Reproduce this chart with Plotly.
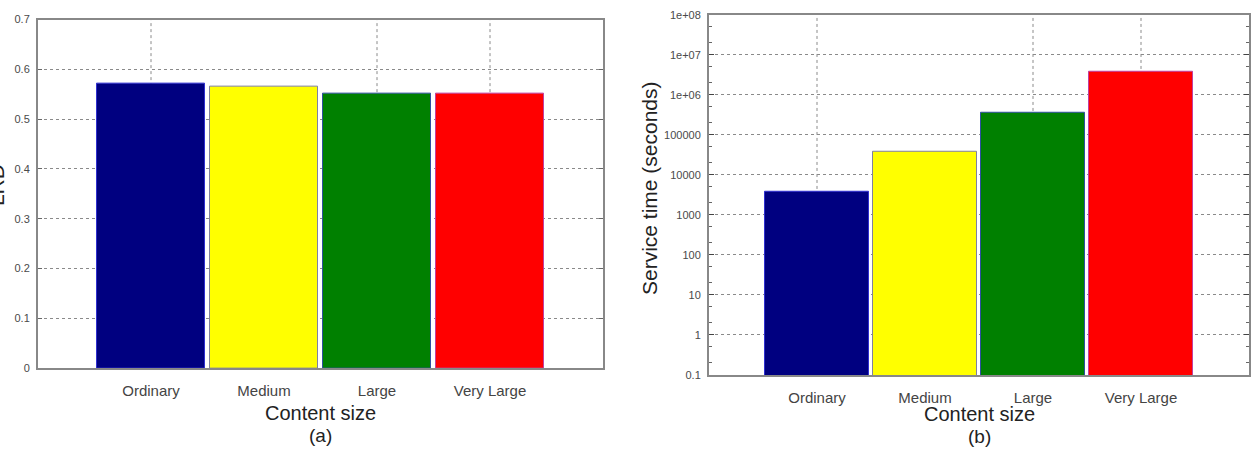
import plotly.graph_objects as go

categories = ["Ordinary", "Medium", "Large", "Very Large"]
lrd_values = [0.572, 0.566, 0.552, 0.551]
service_time = [3750, 37300, 365000, 3750000]
bar_colors = ["#000080", "#ffff00", "#008000", "#ff0000"]
edge_colors = ["#3030d0", "#8080a0", "#3050a0", "#c040a0"]
ya_ticks = [0, 0.1, 0.2, 0.3, 0.4, 0.5, 0.6, 0.7]
yb_tickvals = [0.1, 1, 10, 100, 1000, 10000, 100000, 1e6, 1e7, 1e8]
yb_ticktext = ["0.1", "1", "10", "100", "1000", "10000", "100000", "1e+06", "1e+07", "1e+08"]
vgrid_pos = [0, 2, 3]

W, H = 1258, 452
xa_dom = [38 / W, 603 / W]
xb_dom = [709 / W, 1249 / W]
ya_dom = [1 - 372 / H, 1 - 14 / H]
yb_dom = [1 - 379 / H, 1 - 9 / H]
xs = list(range(len(categories)))

fig = go.Figure()
fig.add_trace(go.Bar(x=xs, y=lrd_values, width=0.955, marker=dict(color=bar_colors, line=dict(color=edge_colors, width=1)),
                     xaxis="x", yaxis="y", showlegend=False, hoverinfo="y"))
fig.add_trace(go.Bar(x=xs, y=service_time, width=0.955, marker=dict(color=bar_colors, line=dict(color=edge_colors, width=1)),
                     xaxis="x2", yaxis="y2", showlegend=False, hoverinfo="y"))

grid_col = "#8a8a8a"
tickfont = dict(family="Liberation Sans, Arial, sans-serif", size=11, color="#4a4a4a")
xtickfont = dict(family="Liberation Sans, Arial, sans-serif", size=15, color="#444")

common_x = dict(range=[-1, 4], tickvals=xs, ticktext=categories, showgrid=False, zeroline=False,
                showline=True, mirror=True, linecolor="#888", linewidth=2, ticks="", tickfont=xtickfont, ticklabelstandoff=8)
fig.update_layout(
    width=W, height=H, margin=dict(l=0, r=0, t=0, b=0),
    paper_bgcolor="white", plot_bgcolor="white", bargap=0,
    xaxis=dict(domain=xa_dom, anchor="y", **common_x),
    yaxis=dict(domain=ya_dom, anchor="x", range=[0, 0.7], tickvals=ya_ticks, showgrid=True, gridcolor=grid_col,
               griddash="dot", gridwidth=1, zeroline=False, showline=True, mirror="ticks", linecolor="#888", linewidth=2,
               ticks="inside", ticklen=4, tickcolor="#666", tickfont=tickfont, ticklabelstandoff=4),
    xaxis2=dict(domain=xb_dom, anchor="y2", **common_x),
    yaxis2=dict(domain=yb_dom, anchor="x2", type="log", range=[-1, 8], tickvals=yb_tickvals, ticktext=yb_ticktext,
                showgrid=True, gridcolor=grid_col, griddash="dot", gridwidth=1, zeroline=False, showline=True,
                mirror="ticks", linecolor="#888", linewidth=2, ticks="inside", ticklen=5, tickcolor="#444",
                tickfont=tickfont, ticklabelstandoff=4,
                minor=dict(ticks="inside", ticklen=3, tickcolor="#666", showgrid=False)),
)

# vertical grid lines at selected category positions (drawn below bars)
for xr, yr in (("x", "y domain"), ("x2", "y2 domain")):
    for p in vgrid_pos:
        fig.add_shape(type="line", xref=xr, yref=yr, x0=p, x1=p, y0=0, y1=1, layer="below",
                      line=dict(color=grid_col, width=1, dash="dot"))

tfont = dict(family="Liberation Sans, Arial, sans-serif", size=20, color="#222")
sfont = dict(family="Liberation Sans, Arial, sans-serif", size=19, color="#222")
anns = [
    dict(text="Content size", x=(xa_dom[0] + xa_dom[1]) / 2, y=1 - 418 / H, font=tfont),
    dict(text="(a)", x=(xa_dom[0] + xa_dom[1]) / 2, y=1 - 441 / H, font=sfont),
    dict(text="Content size", x=(xb_dom[0] + xb_dom[1]) / 2, y=1 - 419 / H, font=tfont),
    dict(text="(b)", x=(xb_dom[0] + xb_dom[1]) / 2, y=1 - 442 / H, font=sfont),
    dict(text="Service time (seconds)", x=649 / W, y=1 - 187 / H, textangle=-90,
         font=dict(family="Liberation Sans, Arial, sans-serif", size=21, color="#222")),
    dict(text="LRD", x=-4 / W, y=1 - 184 / H, textangle=-90,
         font=dict(family="Liberation Sans, Arial, sans-serif", size=21, color="#222")),
]
for a in anns:
    fig.add_annotation(xref="paper", yref="paper", showarrow=False, xanchor="center", yanchor="middle", **a)

fig.write_html("out.html")
